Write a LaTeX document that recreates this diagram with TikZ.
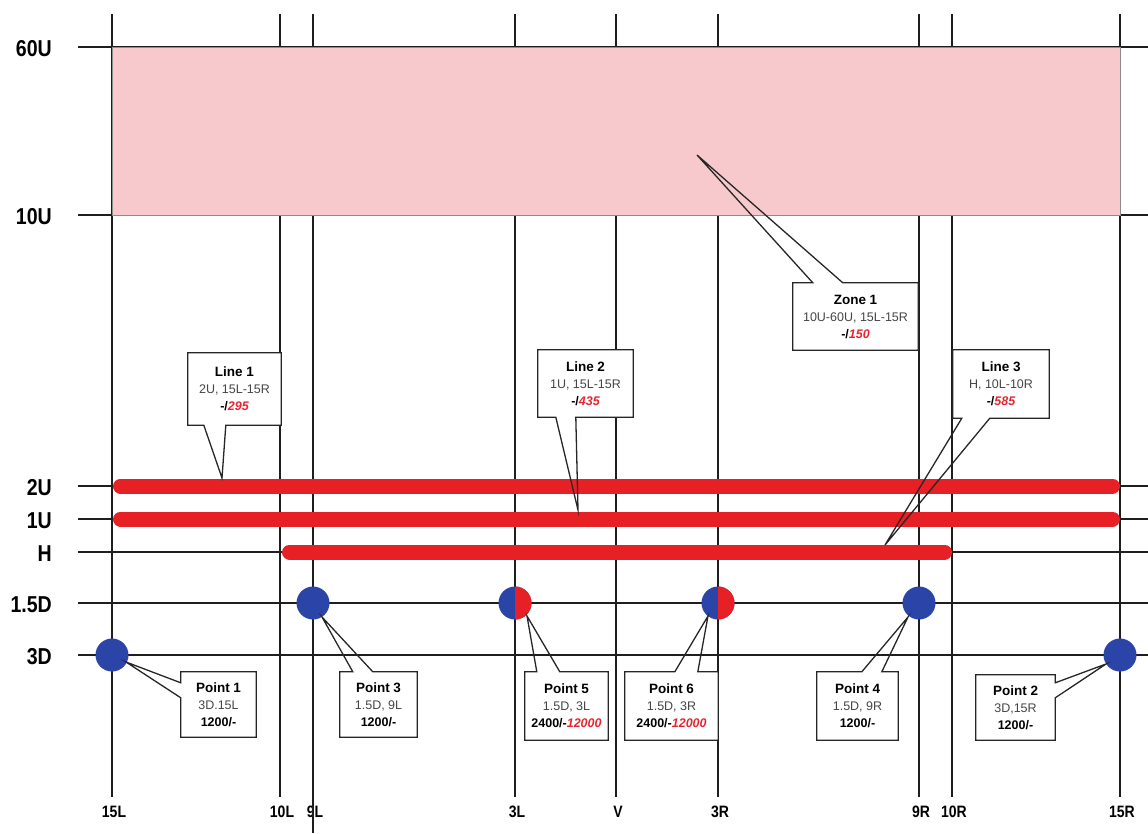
\documentclass[tikz,border=0pt]{standalone}
\usepackage{fontspec}
\setmainfont{Liberation Sans}
\newfontfamily\labfont[FakeStretch=0.85]{Liberation Sans}
\usetikzlibrary{calc}
\definecolor{zonepink}{RGB}{247,200,204}
\definecolor{barred}{RGB}{230,32,36}
\definecolor{dotblue}{RGB}{43,68,168}
\definecolor{gridc}{RGB}{30,30,30}
\definecolor{txtgray}{RGB}{70,70,70}
\definecolor{numred}{RGB}{232,36,48}
\newcommand{\ctitle}[1]{{\bfseries\fontsize{13.5}{17}\selectfont #1}}
\newcommand{\csub}[1]{{\color{txtgray}#1}}
\newcommand{\rnum}[1]{\textcolor{numred}{\bfseries\itshape #1}}
\begin{document}
\begin{tikzpicture}[x=1pt,y=-1pt,
  gridline/.style={draw=gridc, line width=1.3pt},
  redbar/.style={draw=barred, line width=15pt, line cap=round},
  dot/.style={circle, fill=dotblue, minimum size=33pt, inner sep=0pt},
  cbox/.style={fill=white, inner sep=0pt, align=center, font=\fontsize{12.5}{17}\selectfont},
  cline/.style={draw=black!85, line width=1.3pt, line join=miter},
  ylab/.style={anchor=east, inner sep=0pt, font=\labfont\bfseries\fontsize{23}{23}\selectfont},
  xlab/.style={inner sep=0pt, font=\labfont\bfseries\fontsize{16.5}{16.5}\selectfont},
  zonebox/.style={fill=zonepink, draw=black!45, line width=0.8pt}]
\useasboundingbox (0,0) rectangle (1148,833);

% vertical grid lines and bottom labels
\foreach \xx/\nm/\tx in {112/a/15L,280/b/10L,515/d/3L,616/e/V,718/f/3R,919/g/9R,952/h/10R,1120/i/15R}{
  \coordinate (vt\nm) at (\xx,14);
  \coordinate (vb\nm) at (\xx,797);
  \draw[gridline] (vt\nm) -- (vb\nm);
  \node[xlab] (xl\nm) at (\xx+2,812) {\tx};
}
\node[xlab] (xlc) at (315,812) {9L};
\coordinate (vtc) at (313,14);
\coordinate (vbc) at (313,833);
\draw[gridline] (vtc) -- (vbc);

% horizontal grid lines and left labels
\foreach \yy/\nm/\tx in {47/a/60U,215/b/10U,486/c/2U,519/d/1U,552/e/H,603/f/1.5D,655/g/3D}{
  \coordinate (hl\nm) at (78,\yy);
  \coordinate (hr\nm) at (1148,\yy);
  \draw[gridline] (hl\nm) -- (hr\nm);
  \node[ylab] (yl\nm) at (52,\yy+2) {\tx};
}

% zone
\draw[zonebox] (112,47) rectangle (1120,215);

% red lines
\coordinate (b2a) at (120.5,486); \coordinate (b2b) at (1112.5,486);
\coordinate (b1a) at (120.5,519); \coordinate (b1b) at (1112.5,519);
\coordinate (bha) at (289.5,552); \coordinate (bhb) at (944.5,552);
\draw[redbar] (b2a) -- (b2b);
\draw[redbar] (b1a) -- (b1b);
\draw[redbar] (bha) -- (bhb);

% points
\node[dot] (p1) at (112,655) {};
\node[dot] (p2) at (1120,655) {};
\node[dot] (p3) at (313,603) {};
\node[dot] (p4) at (919,603) {};
\node[dot] (p5) at (515,603) {};
\node[dot] (p6) at (718,603) {};
\begin{scope}
  \clip (p5.north) rectangle ($(p5.south)+(20,0)$);
  \fill[barred] (p5.center) circle[radius=16.5pt];
\end{scope}
\begin{scope}
  \clip (p6.north) rectangle ($(p6.south)+(20,0)$);
  \fill[barred] (p6.center) circle[radius=16.5pt];
\end{scope}

% callouts: lines and zone
\node[cbox, minimum width=93pt, minimum height=72pt] (cl1) at (234.5,389)
  {\ctitle{Line 1}\\\csub{2U, 15L-15R}\\{\bfseries -/\rnum{295}}};
\coordinate (tl1) at (222,478);
\draw[cline] (cl1.south west) -- ++(16,0) -- (tl1) -- ($(cl1.south west)+(38,0)$) -- (cl1.south east) -- (cl1.north east) -- (cl1.north west) -- cycle;

\node[cbox, minimum width=95pt, minimum height=67pt] (cl2) at (585.5,383.5)
  {\ctitle{Line 2}\\\csub{1U, 15L-15R}\\{\bfseries -/\rnum{435}}};
\coordinate (tl2) at (578,510);
\draw[cline] (cl2.south west) -- ++(18,0) -- (tl2) -- ($(cl2.south west)+(38,0)$) -- (cl2.south east) -- (cl2.north east) -- (cl2.north west) -- cycle;

\node[cbox, minimum width=96pt, minimum height=68pt] (cl3) at (1001,384)
  {\ctitle{Line 3}\\\csub{H, 10L-10R}\\{\bfseries -/\rnum{585}}};
\coordinate (tl3) at (885,545);
\draw[cline] (cl3.south west) -- ++(9,0) -- (tl3) -- ($(cl3.south west)+(37,0)$) -- (cl3.south east) -- (cl3.north east) -- (cl3.north west) -- cycle;

\node[cbox, minimum width=125pt, minimum height=67pt] (cz1) at (855.5,316.5)
  {\ctitle{Zone 1}\\\csub{10U-60U, 15L-15R}\\{\bfseries -/\rnum{150}}};
\coordinate (tz1) at (697,155);
\draw[cline] (cz1.north west) -- ++(20,0) -- (tz1) -- ($(cz1.north west)+(50,0)$) -- (cz1.north east) -- (cz1.south east) -- (cz1.south west) -- cycle;

% callouts: points
\node[cbox, minimum width=75pt, minimum height=65pt] (cp1) at (218.5,704.5)
  {\ctitle{Point 1}\\\csub{3D.15L}\\{\bfseries 1200/-}};
\coordinate (tp1) at (126,662);
\draw[cline] (cp1.north west) -- ++(0,11) -- (tp1) -- ($(cp1.north west)+(0,26)$) -- (cp1.south west) -- (cp1.south east) -- (cp1.north east) -- cycle;

\node[cbox, minimum width=79pt, minimum height=65pt] (cp2) at (1015.5,707.5)
  {\ctitle{Point 2}\\\csub{3D,15R}\\{\bfseries 1200/-}};
\coordinate (tp2) at (1106,664);
\draw[cline] (cp2.north east) -- ++(0,8) -- (tp2) -- ($(cp2.north east)+(0,23)$) -- (cp2.south east) -- (cp2.south west) -- (cp2.north west) -- cycle;

\node[cbox, minimum width=77pt, minimum height=65pt] (cp3) at (378.5,704.5)
  {\ctitle{Point 3}\\\csub{1.5D, 9L}\\{\bfseries 1200/-}};
\coordinate (tp3) at (322,617);
\draw[cline] (cp3.north west) -- ++(13,0) -- (tp3) -- ($(cp3.north west)+(33,0)$) -- (cp3.north east) -- (cp3.south east) -- (cp3.south west) -- cycle;

\node[cbox, minimum width=81pt, minimum height=68pt] (cp4) at (857.5,706)
  {\ctitle{Point 4}\\\csub{1.5D, 9R}\\{\bfseries 1200/-}};
\coordinate (tp4) at (908,617);
\draw[cline] (cp4.north west) -- ++(45,0) -- (tp4) -- ($(cp4.north west)+(65,0)$) -- (cp4.north east) -- (cp4.south east) -- (cp4.south west) -- cycle;

\node[cbox, minimum width=83pt, minimum height=68pt] (cp5) at (566.5,706)
  {\ctitle{Point 5}\\\csub{1.5D, 3L}\\{\bfseries 2400/-\rnum{12000}}};
\coordinate (tp5) at (527,616);
\draw[cline] (cp5.north west) -- ++(12,0) -- (tp5) -- ($(cp5.north west)+(35,0)$) -- (cp5.north east) -- (cp5.south east) -- (cp5.south west) -- cycle;

\node[cbox, minimum width=93pt, minimum height=68pt] (cp6) at (671.5,706)
  {\ctitle{Point 6}\\\csub{1.5D, 3R}\\{\bfseries 2400/-\rnum{12000}}};
\coordinate (tp6) at (708,616);
\draw[cline] (cp6.north west) -- ++(50,0) -- (tp6) -- ($(cp6.north west)+(73,0)$) -- (cp6.north east) -- (cp6.south east) -- (cp6.south west) -- cycle;
\end{tikzpicture}
\end{document}
